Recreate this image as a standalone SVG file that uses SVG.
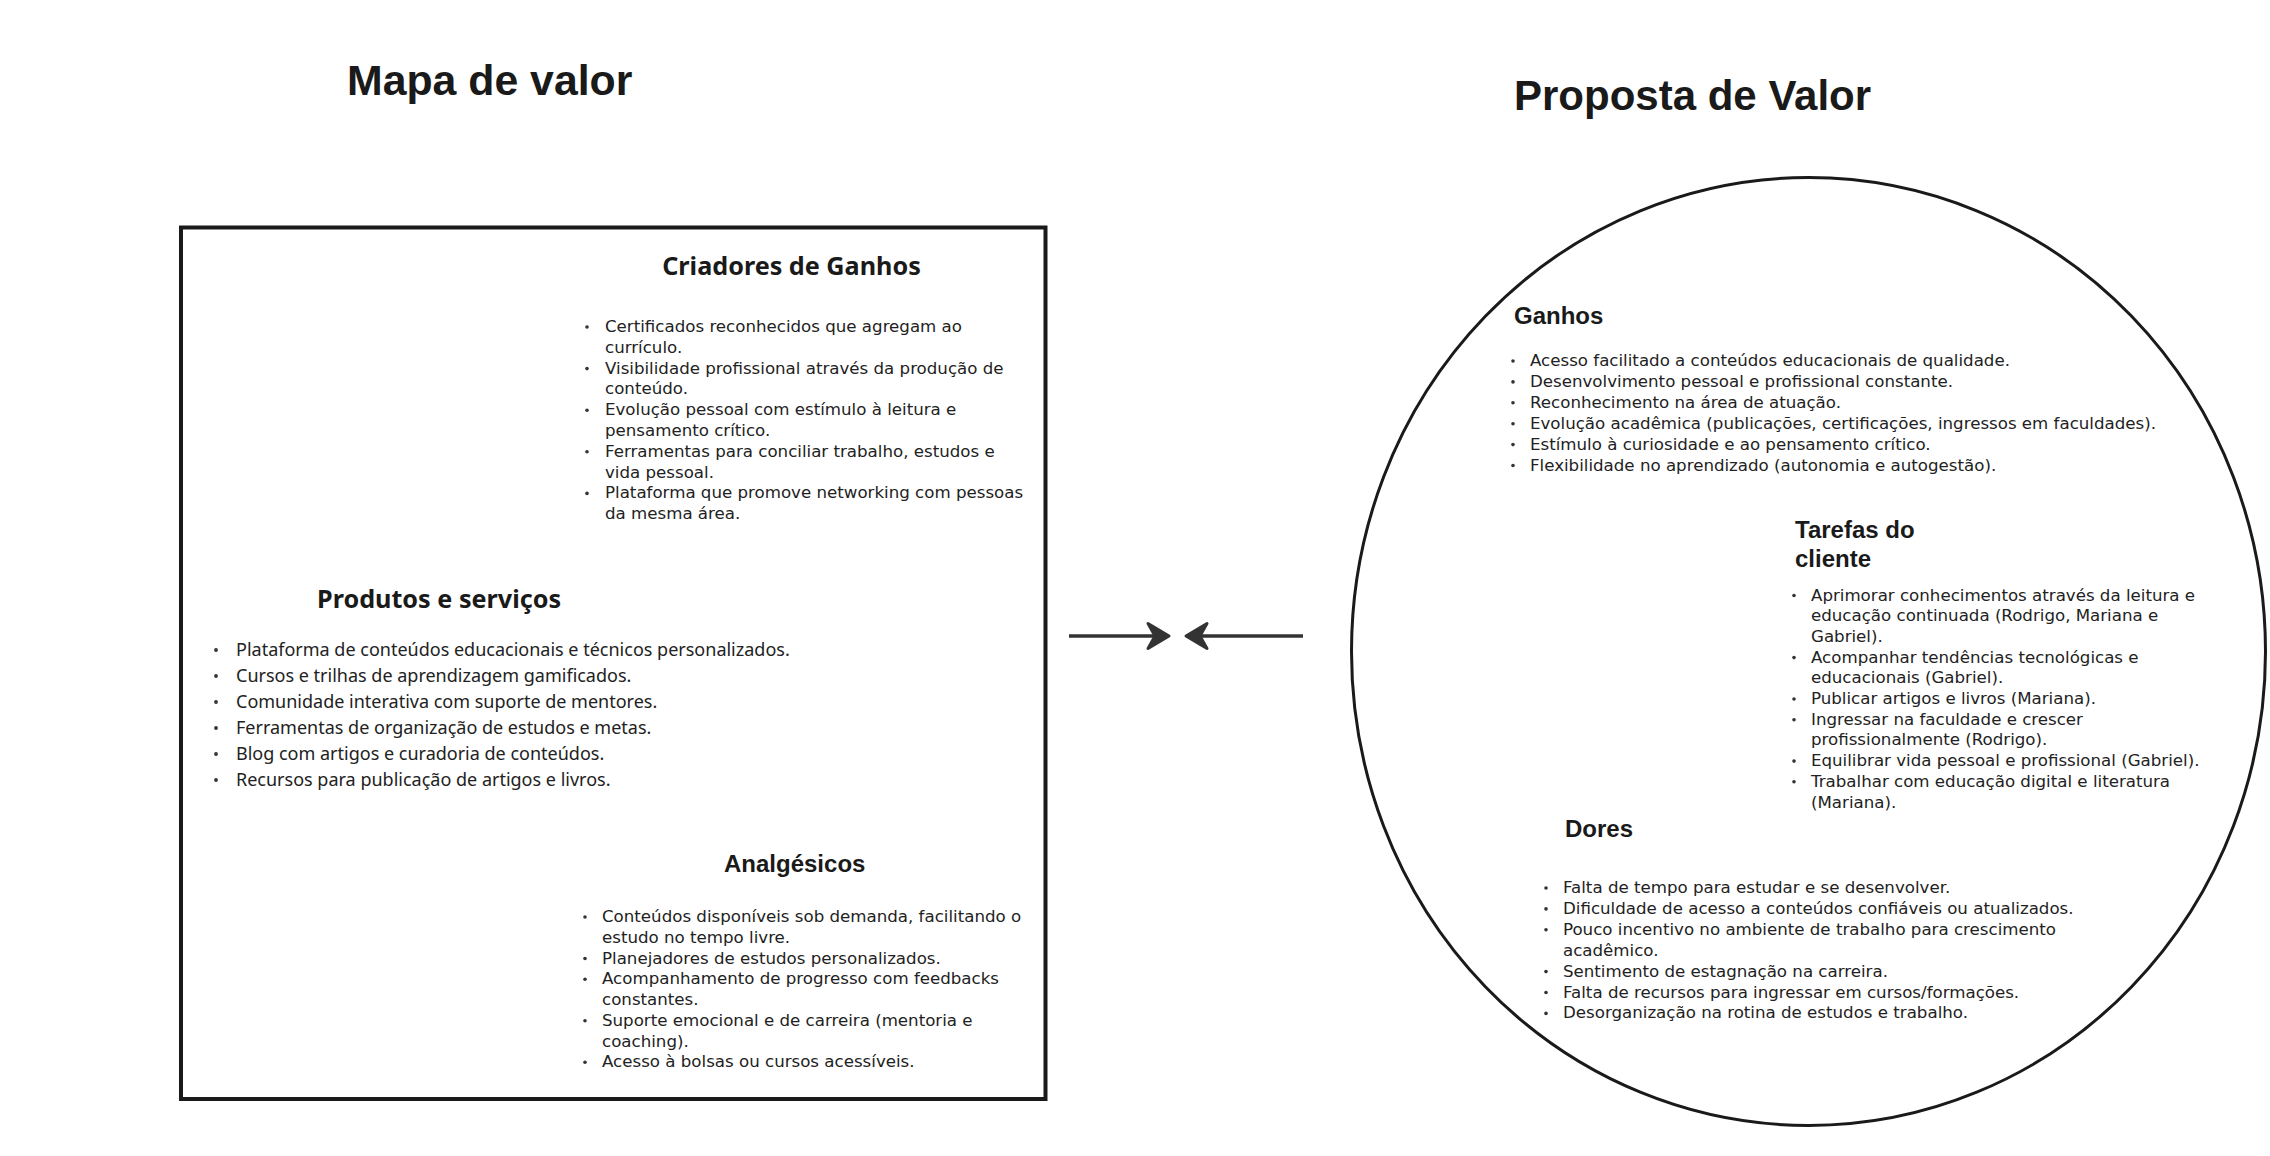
<svg xmlns="http://www.w3.org/2000/svg" width="2270" height="1156" viewBox="0 0 2270 1156">
<defs>
<marker id="ah" viewBox="-28 -17 32 34" markerWidth="32" markerHeight="34" refX="-2" refY="0" orient="auto" markerUnits="userSpaceOnUse">
<path d="M0,0 L-21,-12.5 L-14,0 L-21,12.5 Z" fill="#333" stroke="#333" stroke-width="3" stroke-linejoin="round"/>
</marker>
<style>
.title{font-family:"Liberation Sans",Arial,sans-serif;font-weight:700;fill:#1a1a1a}
.h{font-family:"Liberation Sans",Arial,sans-serif;font-weight:700;font-size:24px;fill:#1a1a1a}
.hn{font-family:"Noto Sans","Open Sans",sans-serif;font-weight:700;font-size:25.2px;fill:#1a1a1a}
.b{font-family:"DejaVu Sans",sans-serif;font-size:16.65px;fill:#222}
.bn{font-family:"Noto Sans","Open Sans",sans-serif;font-size:18px;fill:#222}
.dot{fill:#333}
.frame{fill:none;stroke:#1a1a1a;stroke-width:4}
.circ{fill:none;stroke:#1a1a1a;stroke-width:3}
.conn{stroke:#333;stroke-width:3.5;fill:none;marker-end:url(#ah)}
</style>
</defs>
<rect width="2270" height="1156" fill="#fff"/>

<g id="title-mapa">
<text class="title" x="347" y="95" font-size="42.8">Mapa de valor</text>
</g>
<g id="title-proposta">
<text class="title" x="1514" y="110" font-size="42">Proposta de Valor</text>
</g>

<g id="mapa-de-valor">
<rect class="frame" x="181" y="227.5" width="864.5" height="871.5"/>
</g>

<g id="criadores-de-ganhos">
<text class="hn" x="791.5" y="275" text-anchor="middle">Criadores de Ganhos</text>
<g class="dot">
<circle cx="587" cy="327" r="1.8"/><circle cx="587" cy="368.6" r="1.8"/><circle cx="587" cy="410.2" r="1.8"/><circle cx="587" cy="451.8" r="1.8"/><circle cx="587" cy="493.4" r="1.8"/>
</g>
<text class="b">
<tspan x="605" y="332">Certificados reconhecidos que agregam ao</tspan>
<tspan x="605" y="352.8">currículo.</tspan>
<tspan x="605" y="373.6">Visibilidade profissional através da produção de</tspan>
<tspan x="605" y="394.4">conteúdo.</tspan>
<tspan x="605" y="415.2">Evolução pessoal com estímulo à leitura e</tspan>
<tspan x="605" y="436">pensamento crítico.</tspan>
<tspan x="605" y="456.8">Ferramentas para conciliar trabalho, estudos e</tspan>
<tspan x="605" y="477.6">vida pessoal.</tspan>
<tspan x="605" y="498.4">Plataforma que promove networking com pessoas</tspan>
<tspan x="605" y="519.2">da mesma área.</tspan>
</text>
</g>

<g id="produtos-e-servicos">
<text class="hn" x="317" y="608">Produtos e serviços</text>
<g class="dot">
<circle cx="216" cy="650" r="1.9"/><circle cx="216" cy="676" r="1.9"/><circle cx="216" cy="702" r="1.9"/><circle cx="216" cy="728" r="1.9"/><circle cx="216" cy="754" r="1.9"/><circle cx="216" cy="780" r="1.9"/>
</g>
<text class="bn">
<tspan x="236" y="656">Plataforma de conteúdos educacionais e técnicos personalizados.</tspan>
<tspan x="236" y="682">Cursos e trilhas de aprendizagem gamificados.</tspan>
<tspan x="236" y="708">Comunidade interativa com suporte de mentores.</tspan>
<tspan x="236" y="734">Ferramentas de organização de estudos e metas.</tspan>
<tspan x="236" y="760">Blog com artigos e curadoria de conteúdos.</tspan>
<tspan x="236" y="786">Recursos para publicação de artigos e livros.</tspan>
</text>
</g>

<g id="analgesicos">
<text class="h" x="724" y="871.5">Analgésicos</text>
<g class="dot">
<circle cx="585" cy="917" r="1.8"/><circle cx="585" cy="958.5" r="1.8"/><circle cx="585" cy="979.25" r="1.8"/><circle cx="585" cy="1020.75" r="1.8"/><circle cx="585" cy="1062.25" r="1.8"/>
</g>
<text class="b">
<tspan x="602" y="922">Conteúdos disponíveis sob demanda, facilitando o</tspan>
<tspan x="602" y="942.75">estudo no tempo livre.</tspan>
<tspan x="602" y="963.5">Planejadores de estudos personalizados.</tspan>
<tspan x="602" y="984.25">Acompanhamento de progresso com feedbacks</tspan>
<tspan x="602" y="1005">constantes.</tspan>
<tspan x="602" y="1025.75">Suporte emocional e de carreira (mentoria e</tspan>
<tspan x="602" y="1046.5">coaching).</tspan>
<tspan x="602" y="1067.25">Acesso à bolsas ou cursos acessíveis.</tspan>
</text>
</g>

<g id="proposta-de-valor">
<ellipse class="circ" cx="1808.5" cy="651.5" rx="457" ry="474"/>
</g>

<g id="ganhos">
<text class="h" x="1514" y="324">Ganhos</text>
<g class="dot">
<circle cx="1513" cy="361" r="1.8"/><circle cx="1513" cy="381.9" r="1.8"/><circle cx="1513" cy="402.8" r="1.8"/><circle cx="1513" cy="423.7" r="1.8"/><circle cx="1513" cy="444.6" r="1.8"/><circle cx="1513" cy="465.5" r="1.8"/>
</g>
<text class="b">
<tspan x="1530" y="366">Acesso facilitado a conteúdos educacionais de qualidade.</tspan>
<tspan x="1530" y="386.9">Desenvolvimento pessoal e profissional constante.</tspan>
<tspan x="1530" y="407.8">Reconhecimento na área de atuação.</tspan>
<tspan x="1530" y="428.7">Evolução acadêmica (publicações, certificações, ingressos em faculdades).</tspan>
<tspan x="1530" y="449.6">Estímulo à curiosidade e ao pensamento crítico.</tspan>
<tspan x="1530" y="470.5">Flexibilidade no aprendizado (autonomia e autogestão).</tspan>
</text>
</g>

<g id="tarefas-do-cliente">
<text class="h"><tspan x="1795" y="538">Tarefas do</tspan><tspan x="1795" y="567">cliente</tspan></text>
<g class="dot">
<circle cx="1794" cy="595.5" r="1.8"/><circle cx="1794" cy="657.6" r="1.8"/><circle cx="1794" cy="699" r="1.8"/><circle cx="1794" cy="719.7" r="1.8"/><circle cx="1794" cy="761.1" r="1.8"/><circle cx="1794" cy="781.8" r="1.8"/>
</g>
<text class="b">
<tspan x="1811" y="600.5">Aprimorar conhecimentos através da leitura e</tspan>
<tspan x="1811" y="621.2">educação continuada (Rodrigo, Mariana e</tspan>
<tspan x="1811" y="641.9">Gabriel).</tspan>
<tspan x="1811" y="662.6">Acompanhar tendências tecnológicas e</tspan>
<tspan x="1811" y="683.3">educacionais (Gabriel).</tspan>
<tspan x="1811" y="704">Publicar artigos e livros (Mariana).</tspan>
<tspan x="1811" y="724.7">Ingressar na faculdade e crescer</tspan>
<tspan x="1811" y="745.4">profissionalmente (Rodrigo).</tspan>
<tspan x="1811" y="766.1">Equilibrar vida pessoal e profissional (Gabriel).</tspan>
<tspan x="1811" y="786.8">Trabalhar com educação digital e literatura</tspan>
<tspan x="1811" y="807.5">(Mariana).</tspan>
</text>
</g>

<g id="dores">
<text class="h" x="1565" y="836.5">Dores</text>
<g class="dot">
<circle cx="1546" cy="888" r="1.8"/><circle cx="1546" cy="908.9" r="1.8"/><circle cx="1546" cy="929.8" r="1.8"/><circle cx="1546" cy="971.6" r="1.8"/><circle cx="1546" cy="992.5" r="1.8"/><circle cx="1546" cy="1013.4" r="1.8"/>
</g>
<text class="b">
<tspan x="1563" y="893">Falta de tempo para estudar e se desenvolver.</tspan>
<tspan x="1563" y="913.9">Dificuldade de acesso a conteúdos confiáveis ou atualizados.</tspan>
<tspan x="1563" y="934.8">Pouco incentivo no ambiente de trabalho para crescimento</tspan>
<tspan x="1563" y="955.7">acadêmico.</tspan>
<tspan x="1563" y="976.6">Sentimento de estagnação na carreira.</tspan>
<tspan x="1563" y="997.5">Falta de recursos para ingressar em cursos/formações.</tspan>
<tspan x="1563" y="1018.4">Desorganização na rotina de estudos e trabalho.</tspan>
</text>
</g>

<g id="connectors">
<path class="conn" d="M1069,636 H1167"/>
<path class="conn" d="M1303,636 H1188"/>
</g>
</svg>
